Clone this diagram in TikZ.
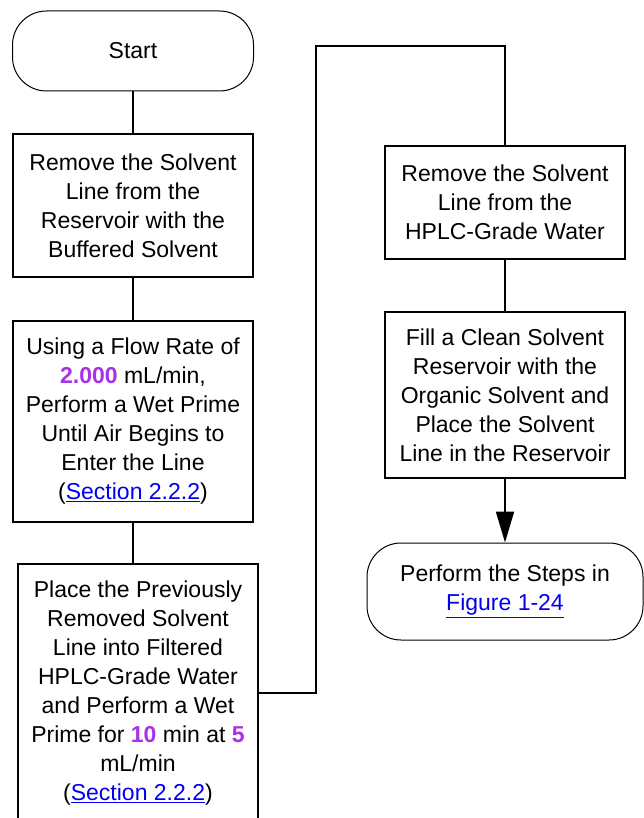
\documentclass[tikz,border=0pt]{standalone}
\usepackage{fontspec}
\setmainfont{Liberation Sans}
\usetikzlibrary{arrows.meta}
\definecolor{valpurple}{RGB}{168,48,230}
\definecolor{linkblue}{RGB}{0,0,238}
\newcommand{\pval}[1]{\textbf{\color{valpurple}#1}}
\newcommand{\xref}[1]{{\color{linkblue}\underline{#1}}}
\begin{document}
\begin{tikzpicture}[x=1pt,y=-1pt,
    stepbox/.style={draw,line width=2pt,inner sep=0pt,minimum width=240pt,align=center,
        font=\fontsize{23}{29}\selectfont},
    term/.style={draw,line width=1pt,rounded corners=34pt,inner sep=0pt,align=center,
        font=\fontsize{23}{29}\selectfont},
    link/.style={line width=2pt}]
                \useasboundingbox (0,0) rectangle (644,818);
                \node[term,minimum width=241pt,minimum height=80pt] (start) at (133,51) {Start};
                \node[stepbox,minimum height=143pt] (rmbuf) at (133,205.5) {Remove the Solvent\\Line from the\\Reservoir with the\\Buffered Solvent};
                \node[stepbox,minimum height=201pt] (wetprime) at (133,421.5) {Using a Flow Rate of\\\pval{2.000} mL/min,\\Perform a Wet Prime\\Until Air Begins to\\Enter the Line\\(\xref{Section 2.2.2})};
                \node[stepbox,minimum height=258pt] (placew) at (138,693) {Place the Previously\\Removed Solvent\\Line into Filtered\\HPLC-Grade Water\\and Perform a Wet\\Prime for \pval{10} min at \pval{5}\\mL/min\\(\xref{Section 2.2.2})};
                \coordinate (turn) at (316,46);
                \node[stepbox,minimum height=113pt] (rmwater) at (505,202.5) {Remove the Solvent\\Line from the\\HPLC-Grade Water};
                \node[stepbox,minimum height=166pt] (fillres) at (505,395) {Fill a Clean Solvent\\Reservoir with the\\Organic Solvent and\\Place the Solvent\\Line in the Reservoir};
                \node[term,minimum width=276pt,minimum height=97pt] (finish) at (505,591.5) {Perform the Steps in\\\xref{Figure 1-24}};

                \draw[link] (start) -- (rmbuf);
                \draw[link] (rmbuf) -- (wetprime);
                \draw[link] (wetprime.south) -- (wetprime.south |- placew.north);
                \draw[link] (placew.east) -| (turn) -| (rmwater.north);
                \draw[link] (rmwater) -- (fillres);
                \draw[link,-{Triangle[length=31pt,width=18pt]}] (fillres) -- (finish);
            \end{tikzpicture}
\end{document}
